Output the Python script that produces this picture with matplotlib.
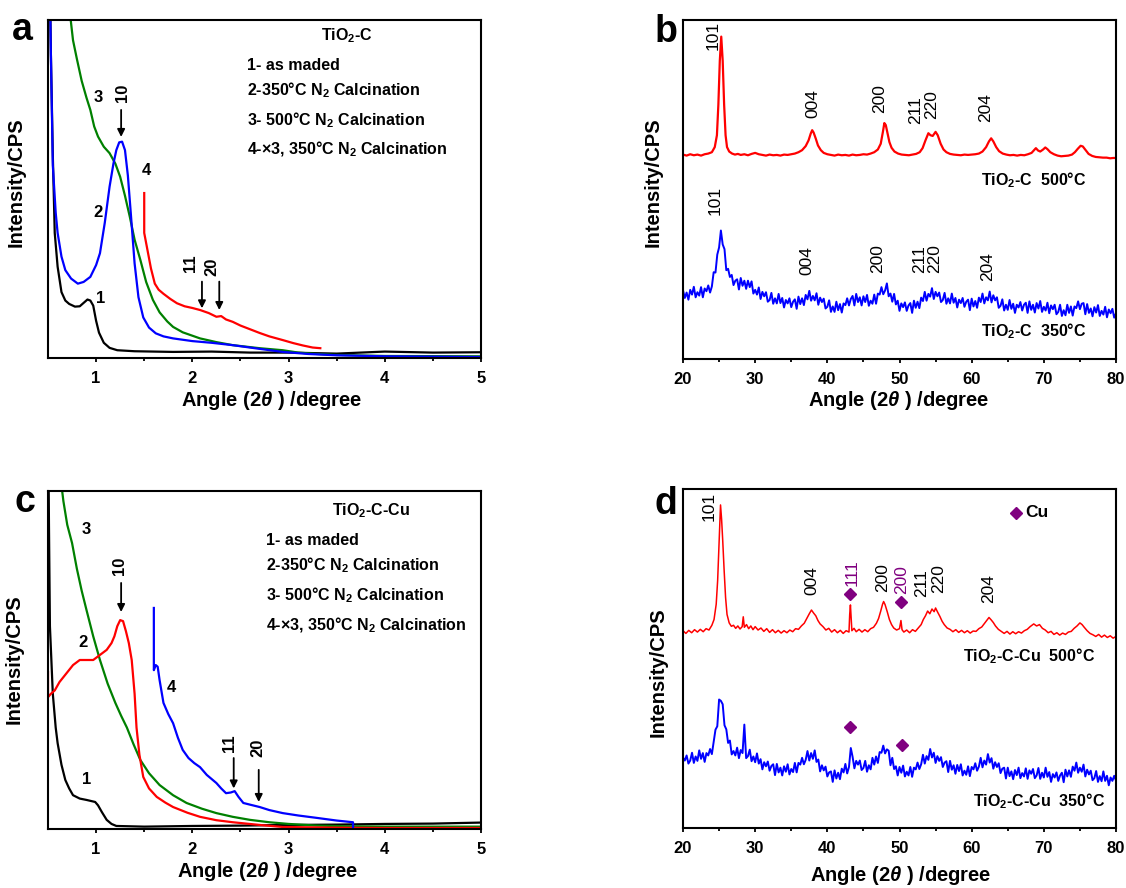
import numpy as np
import matplotlib
matplotlib.use("Agg")
import matplotlib.pyplot as plt

plt.rcParams.update({
    "font.family": ["Liberation Sans", "DejaVu Sans"],
    "mathtext.fontset": "custom",
    "mathtext.rm": "Liberation Sans:bold",
    "mathtext.it": "Liberation Sans:italic:bold",
    "mathtext.bf": "Liberation Sans:bold",
    "axes.linewidth": 1.5,
})

# ---------------- small-angle patterns, TiO2-C (panel a) ----------------
a1_x = [0.51, 0.53, 0.55, 0.57, 0.60, 0.64, 0.68, 0.72, 0.78, 0.83, 0.87, 0.91, 0.94, 0.97, 1.00,
        1.03, 1.08, 1.14, 1.22, 1.40, 1.80, 2.20, 2.60, 3.00, 3.50, 4.00, 4.50, 5.00]
a1_y = [130, 90, 60, 37, 27, 19.5, 17, 16, 15.2, 15.3, 16.3, 17.3, 17, 15.5, 11,
        7.5, 4.5, 3, 2.3, 2.0, 1.8, 1.9, 1.6, 1.6, 1.3, 1.9, 1.6, 1.7]
a2_x = [0.51, 0.53, 0.55, 0.58, 0.60, 0.64, 0.68, 0.74, 0.81, 0.87, 0.94, 1.00, 1.04, 1.09, 1.14,
        1.18, 1.21, 1.24, 1.27, 1.30, 1.33, 1.36, 1.40, 1.44, 1.49, 1.55, 1.62, 1.70, 1.80, 2.00,
        2.20, 2.42, 2.70, 2.94, 3.20, 3.50, 4.00, 4.50, 5.00]
a2_y = [130, 90, 57, 43, 37, 30, 26, 23.5, 22, 22.5, 24, 27.5, 31, 40, 50.7,
        57.5, 61.5, 63.8, 64, 61.5, 54, 43, 28, 18, 12, 9, 7.3, 6.4, 5.8, 5.0,
        4.5, 3.8, 2.7, 1.8, 1.2, 0.8, 0.5, 0.4, 0.3]
a3_x = [0.72, 0.76, 0.80, 0.85, 0.90, 0.94, 0.98, 1.02, 1.08, 1.14, 1.20, 1.25, 1.30, 1.35, 1.40,
        1.46, 1.52, 1.59, 1.66, 1.74, 1.80, 1.90, 2.08, 2.25, 2.42, 2.70, 2.94, 3.10, 3.29, 3.50,
        4.00, 5.00]
a3_y = [104, 94, 88.5, 82, 77, 73.4, 68.5, 65.5, 62.5, 60.6, 57.5, 53.6, 48, 41.8, 35,
        29, 22.5, 17.2, 13.5, 10.8, 9.2, 7.6, 5.8, 4.7, 3.8, 2.9, 2.3, 1.6, 1.2, 0.9,
        0.6, 0.5]
a4_x = [1.50, 1.50, 1.52, 1.54, 1.57, 1.61, 1.65, 1.70, 1.77, 1.84, 1.92, 2.00, 2.08, 2.17, 2.25,
        2.30, 2.35, 2.42, 2.50, 2.60, 2.70, 2.80, 2.94, 3.05, 3.15, 3.25, 3.33]
a4_y = [48.8, 37, 34, 31, 26.5, 22, 20.2, 19, 17.5, 16.2, 15.3, 14.8, 14.2, 13.3, 12.2,
        12.4, 11.4, 10.7, 9.6, 8.5, 7.4, 6.4, 5.3, 4.4, 3.7, 3.1, 2.9]

# ---------------- small-angle patterns, TiO2-C-Cu (panel c) ----------------
c1_x = [0.50, 0.51, 0.52, 0.55, 0.58, 0.60, 0.64, 0.68, 0.72, 0.76, 0.83, 0.90, 0.96, 0.99, 1.02,
        1.06, 1.11, 1.16, 1.21, 1.50, 2.00, 2.50, 3.00, 3.50, 4.00, 4.50, 5.00]
c1_y = [130, 90, 60, 40, 30, 25.4, 19, 14.5, 12, 10, 9, 8.6, 8.2, 8, 7,
        5, 2.7, 1.5, 0.9, 0.7, 0.9, 1.0, 1.2, 1.3, 1.5, 1.6, 1.9]
c2_x = [0.50, 0.50, 0.53, 0.57, 0.62, 0.69, 0.76, 0.83, 0.90, 0.97, 1.04, 1.11, 1.16, 1.19, 1.22,
        1.25, 1.28, 1.31, 1.34, 1.37, 1.40, 1.42, 1.45, 1.49, 1.55, 1.63, 1.72, 1.80, 1.95, 2.08,
        2.25, 2.42, 2.70, 2.94, 3.50, 4.00, 5.00]
c2_y = [46.4, 39, 40, 41, 43.5, 46, 48.5, 50, 50, 50, 51.5, 53, 55, 57, 60,
        61.8, 61.5, 58.5, 55, 50, 40, 30, 22, 15.4, 12, 9.5, 7.8, 6.5, 4.8, 3.6,
        2.6, 2.0, 1.2, 0.6, 0.4, 0.3, 0.3]
c3_x = [0.63, 0.66, 0.70, 0.75, 0.80, 0.85, 0.90, 0.97, 1.04, 1.12, 1.20, 1.26, 1.32, 1.39, 1.46,
        1.55, 1.66, 1.80, 1.94, 2.10, 2.25, 2.42, 2.60, 2.80, 3.00, 3.30, 3.60, 4.00, 5.00]
c3_y = [104, 97, 90, 84.6, 77, 70.5, 64.8, 57, 50, 43, 37.3, 33.5, 30, 25, 20.4,
        16.5, 13, 10, 7.7, 6, 4.7, 3.6, 2.7, 2.0, 1.5, 1.0, 0.8, 0.7, 0.7]
c4_x = [1.60, 1.60, 1.62, 1.64, 1.66, 1.70, 1.75, 1.80, 1.85, 1.90, 1.96, 2.02, 2.08, 2.15, 2.25,
        2.30, 2.35, 2.40, 2.44, 2.48, 2.53, 2.60, 2.70, 2.80, 2.94, 3.10, 3.29, 3.50, 3.67, 3.67]
c4_y = [65.4, 47, 48.5, 48, 44, 37.3, 34, 31.3, 27, 23.4, 21, 19.5, 18.3, 16, 13.6,
        12, 10.6, 10.8, 11.2, 9.5, 7.7, 7.2, 6.5, 5.6, 4.7, 4.0, 3.3, 2.5, 2.0, 0.5]

# ---------------- wide-angle patterns, TiO2-C (panel b) ----------------
b500_x = [20.0, 20.5, 21.0, 21.5, 22.0, 22.5, 23.0, 23.5, 24.0, 24.4, 24.7, 24.9, 25.1, 25.3, 25.5,
          25.7, 25.9, 26.1, 26.4, 26.8, 27.2, 27.6, 28.0, 28.5, 29.0, 29.5, 30.0, 30.5, 31.0, 31.5,
          32.0, 32.5, 33.0, 33.5, 34.0, 34.5, 35.0, 35.5, 36.0, 36.5, 37.0, 37.4, 37.7, 37.9, 38.1,
          38.4, 38.7, 39.1, 39.5, 40.0, 40.5, 41.0, 41.5, 42.0, 42.5, 43.0, 43.5, 44.0, 44.5, 45.0,
          45.5, 46.0, 46.5, 47.0, 47.4, 47.7, 47.9, 48.1, 48.3, 48.6, 48.9, 49.3, 49.8, 50.3, 50.8,
          51.3, 51.8, 52.3, 52.8, 53.2, 53.6, 54.0, 54.3, 54.6, 55.0, 55.3, 55.7, 56.1, 56.5, 57.0,
          57.5, 58.0, 58.5, 59.0, 59.5, 60.0, 60.5, 61.0, 61.5, 62.0, 62.4, 62.7, 63.0, 63.4, 63.8,
          64.3, 64.8, 65.3, 65.8, 66.3, 66.8, 67.3, 67.8, 68.3, 68.6, 68.9, 69.2, 69.5, 69.9, 70.2,
          70.5, 70.9, 71.4, 71.9, 72.4, 72.9, 73.4, 73.9, 74.3, 74.7, 75.1, 75.4, 75.8, 76.2, 76.7,
          77.2, 77.7, 78.2, 78.7, 79.2, 79.6, 80.0]
b500_y = [60.3, 60.0, 60.4, 60.1, 60.3, 60.0, 60.4, 60.6, 61.0, 62.5, 66, 75, 88, 95.1, 88,
          75, 66, 62.5, 61.2, 60.6, 60.3, 60.5, 60.2, 60.4, 60.1, 60.5, 60.8, 60.4, 60.2, 60.0,
          60.3, 60.1, 60.2, 60.0, 60.3, 60.2, 60.4, 60.6, 61.0, 61.6, 62.8, 64.5, 66.5, 67.5, 66.8,
          65.0, 63.0, 61.6, 60.8, 60.4, 60.2, 60.0, 60.3, 60.1, 60.2, 60.0, 60.3, 60.1, 60.2, 60.4,
          60.3, 60.6, 61.0, 61.8, 63.5, 67, 69.6, 69.0, 67, 64, 62.3, 61.2, 60.6, 60.3, 60.2,
          60.1, 60.3, 60.5, 61.0, 62.2, 64.5, 66.6, 66.0, 65.8, 67.0, 66.0, 63.5, 61.8, 61.0, 60.5,
          60.3, 60.2, 60.1, 60.3, 60.2, 60.3, 60.4, 60.6, 61.2, 62.5, 64.2, 65.1, 64.2, 62.5, 61.3,
          60.6, 60.3, 60.1, 60.2, 60.0, 60.2, 60.1, 60.4, 60.8, 61.5, 62.2, 61.5, 61.2, 61.8, 62.4,
          61.9, 61.0, 60.4, 60.0, 59.8, 59.9, 60.0, 60.3, 61.0, 62.0, 62.9, 62.7, 61.6, 60.5, 59.9,
          59.6, 59.5, 59.4, 59.4, 59.2, 59.3, 59.3]

# 0.25 degree scan, 350 C sample
b350_y = [20.3, 18.0, 19.6, 17.5, 20.4, 19.0, 21.3, 18.2, 19.7, 18.7, 21.2, 18.2, 20.8, 20.0, 21.7, 19.6,
          21.4, 25.6, 25.5, 30.8, 32.9, 37.9, 33.8, 32.4, 26.2, 26.6, 24.2, 24.8, 21.8, 23.1, 23.5, 20.5,
          23.9, 21.6, 23.1, 20.7, 23.1, 21.2, 22.9, 19.3, 20.4, 19.0, 21.1, 17.7, 19.8, 18.5, 19.7, 16.9,
          17.4, 19.5, 16.3, 17.9, 16.4, 19.2, 16.5, 18.0, 15.2, 17.4, 16.4, 17.9, 15.3, 16.9, 17.6, 14.8,
          18.4, 16.2, 17.9, 15.9, 18.9, 17.6, 20.1, 17.2, 18.6, 17.3, 19.4, 16.0, 18.1, 16.8, 17.8, 14.9,
          15.4, 17.3, 13.9, 15.5, 13.9, 16.9, 14.4, 16.2, 13.7, 16.4, 15.9, 17.9, 15.8, 17.7, 18.6, 15.8,
          19.2, 16.8, 18.2, 15.8, 18.5, 16.8, 18.9, 15.7, 17.2, 16.3, 19.0, 16.3, 19.3, 19.0, 21.2, 19.1,
          20.2, 22.3, 18.5, 19.3, 16.9, 19.2, 16.1, 17.2, 14.2, 16.4, 15.3, 16.7, 14.2, 15.8, 16.5, 13.6,
          17.2, 15.1, 16.9, 15.0, 18.1, 17.1, 19.8, 17.2, 19.2, 18.4, 20.9, 17.7, 19.8, 18.5, 19.6, 16.8,
          17.4, 19.5, 16.3, 17.9, 16.4, 19.3, 16.6, 18.0, 15.2, 17.5, 16.5, 18.0, 15.4, 16.9, 17.5, 14.4,
          17.8, 15.5, 17.1, 15.1, 18.1, 16.8, 19.3, 16.4, 18.2, 17.3, 19.9, 16.7, 18.8, 17.3, 18.2, 15.1,
          15.7, 17.6, 14.3, 16.0, 14.5, 17.4, 14.8, 16.3, 13.6, 16.0, 15.2, 16.8, 14.3, 16.0, 16.6, 13.6,
          17.0, 14.5, 16.0, 13.7, 16.5, 14.9, 17.1, 13.9, 15.4, 14.3, 16.6, 13.5, 15.8, 14.7, 16.0, 13.2,
          13.9, 16.0, 12.7, 14.4, 12.9, 16.0, 13.6, 15.5, 12.8, 15.5, 15.0, 17.0, 14.7, 16.3, 16.5, 13.2,
          16.2, 13.6, 14.9, 12.6, 15.3, 13.7, 15.9, 12.7, 14.2, 13.1, 15.4, 12.3, 14.6, 13.5, 14.8, 12.2,
          13.5]

# ---------------- wide-angle patterns, TiO2-C-Cu (panel d) ----------------
d500_x = [20.0, 20.4, 20.8, 21.2, 21.6, 22.0, 22.4, 22.8, 23.2, 23.6, 24.0, 24.3, 24.6, 24.8, 25.0,
          25.1, 25.2, 25.35, 25.5, 25.7, 25.9, 26.1, 26.4, 26.7, 27.0, 27.3, 27.6, 27.9, 28.2, 28.35,
          28.5, 28.8, 29.1, 29.4, 29.7, 30.0, 30.4, 30.8, 31.2, 31.6, 32.0, 32.4, 32.8, 33.2, 33.6,
          34.0, 34.4, 34.8, 35.2, 35.6, 36.0, 36.4, 36.8, 37.2, 37.5, 37.8, 38.1, 38.4, 38.7, 39.0,
          39.4, 39.8, 40.2, 40.6, 41.0, 41.4, 41.8, 42.2, 42.6, 43.0, 43.1, 43.2, 43.3, 43.4, 43.7,
          44.0, 44.4, 44.8, 45.2, 45.6, 46.0, 46.4, 46.8, 47.1, 47.4, 47.65, 47.8, 48.0, 48.3, 48.6,
          48.9, 49.2, 49.6, 50.0, 50.2, 50.35, 50.6, 51.0, 51.4, 51.8, 52.2, 52.6, 53.0, 53.3, 53.6,
          53.9, 54.2, 54.5, 54.8, 55.0, 55.3, 55.6, 55.9, 56.2, 56.6, 57.0, 57.4, 57.8, 58.2, 58.6,
          59.0, 59.4, 59.8, 60.2, 60.6, 61.0, 61.4, 61.8, 62.1, 62.4, 62.7, 63.0, 63.3, 63.7, 64.1,
          64.5, 64.9, 65.3, 65.7, 66.1, 66.5, 66.9, 67.3, 67.7, 68.1, 68.6, 69.0, 69.4, 69.8, 70.2,
          70.6, 71.0, 71.4, 71.8, 72.2, 72.6, 73.0, 73.4, 73.8, 74.2, 74.6, 75.0, 75.3, 75.6, 76.0,
          76.4, 76.8, 77.2, 77.6, 78.0, 78.4, 78.8, 79.2, 79.6, 80.0]
d500_y = [58.2, 57.4, 58.3, 57.6, 58.5, 57.8, 58.6, 57.9, 58.8, 58.4, 59.8, 61.5, 66, 73, 84,
          90, 95.3, 91, 85, 76, 68, 63, 60.5, 59.5, 59.8, 58.9, 59.6, 58.7, 59.4, 62.3,
          59.2, 60.0, 58.8, 59.6, 58.5, 59.4, 58.4, 59.0, 58.0, 58.8, 57.7, 58.5, 57.6, 58.3, 57.5,
          58.2, 57.6, 58.4, 57.9, 58.8, 58.6, 59.6, 60.4, 62.0, 63.2, 64.3, 63.4, 62.6, 61.2, 60.2,
          59.4, 58.4, 58.9, 57.8, 58.5, 57.6, 58.3, 57.4, 58.2, 57.8, 63, 65.8, 62, 58.2, 58.9,
          57.9, 58.6, 57.8, 58.5, 57.9, 58.8, 59.2, 60.4, 61.8, 64.0, 66.0, 66.8, 65.9, 63.8, 61.5,
          60.0, 59.0, 58.4, 58.8, 61.2, 58.5, 57.8, 58.4, 57.6, 58.5, 58.0, 59.0, 60.0, 61.5, 62.6,
          64.0, 63.2, 64.6, 63.8, 64.9, 63.6, 62.4, 61.0, 60.0, 59.0, 58.6, 57.9, 58.5, 57.7, 58.3,
          57.6, 58.2, 57.5, 58.1, 58.0, 58.8, 59.3, 60.4, 61.2, 62.1, 61.4, 60.6, 59.6, 58.6, 58.0,
          57.4, 58.0, 57.2, 57.9, 57.3, 57.9, 57.5, 58.2, 58.6, 59.4, 60.2, 59.6, 60.0, 58.9, 58.4,
          57.6, 58.0, 57.1, 57.6, 56.9, 57.5, 57.1, 57.8, 58.0, 58.9, 59.6, 60.5, 60.0, 59.2, 58.2,
          57.4, 57.0, 56.5, 57.1, 56.3, 56.9, 56.2, 56.7, 56.0, 56.5]

# 0.25 degree scan, 350 C sample
d350_y = [20.8, 19.9, 21.4, 19.0, 19.9, 22.2, 19.2, 21.1, 19.8, 22.9, 20.4, 22.1, 19.5, 22.1, 21.4, 23.3,
          21.8, 25.4, 29.0, 30.0, 37.9, 37.5, 36.5, 30.3, 29.1, 25.1, 25.8, 21.7, 22.7, 21.4, 23.7, 20.6,
          23.0, 22.1, 30.5, 20.6, 21.2, 23.1, 19.7, 21.1, 19.4, 22.0, 19.0, 20.3, 17.3, 19.4, 18.2, 19.6,
          16.9, 18.3, 18.8, 15.6, 18.9, 16.4, 17.8, 15.5, 18.2, 16.6, 18.8, 15.8, 17.4, 16.5, 19.2, 16.4,
          19.2, 18.7, 20.7, 18.8, 20.1, 22.7, 19.9, 22.1, 20.4, 22.9, 19.5, 20.2, 16.7, 18.5, 17.0, 18.1,
          15.2, 16.4, 16.7, 13.6, 17.0, 14.6, 16.3, 14.4, 17.5, 16.4, 18.9, 16.1, 18.0, 23.6, 21.0, 17.6,
          19.8, 18.7, 19.9, 17.1, 17.7, 19.8, 16.6, 18.5, 17.3, 20.7, 18.7, 21.1, 19.2, 22.4, 22.2, 24.3,
          22.0, 23.2, 22.8, 18.5, 20.7, 17.4, 18.2, 15.5, 18.0, 16.3, 18.4, 15.2, 16.6, 15.5, 18.0, 15.1,
          17.8, 17.3, 19.3, 17.4, 18.8, 21.6, 19.0, 21.2, 20.1, 23.3, 20.8, 22.2, 19.2, 21.2, 19.8, 20.9,
          18.0, 19.3, 19.7, 16.5, 19.8, 17.2, 18.5, 16.0, 18.6, 16.8, 18.8, 15.5, 16.9, 15.7, 18.2, 15.3,
          18.0, 17.3, 19.1, 16.9, 18.1, 20.7, 17.9, 19.9, 18.7, 21.8, 19.3, 20.6, 17.5, 19.4, 18.0, 19.1,
          16.2, 17.5, 17.8, 14.6, 17.8, 15.3, 16.7, 14.4, 17.1, 15.6, 17.8, 14.7, 16.2, 15.2, 17.6, 14.5,
          17.0, 16.0, 17.4, 14.7, 15.5, 17.7, 14.5, 16.3, 14.9, 17.8, 15.1, 16.5, 13.6, 15.9, 14.9, 16.4,
          13.9, 15.5, 16.3, 13.5, 17.2, 15.2, 17.0, 15.1, 18.1, 16.9, 19.3, 16.3, 17.8, 16.6, 18.7, 15.2,
          17.2, 15.8, 16.9, 14.1, 14.7, 16.8, 13.6, 15.3, 13.8, 16.7, 13.9, 15.4, 12.6, 14.9, 13.9, 15.4,
          14.0]

scan_start, scan_step = 20.0, 0.25

# legend lines of the small-angle panels
saxs_lines = ["1- as maded",
              r"2-350°C N$_2$ Calcination",
              r"3- 500°C N$_2$ Calcination",
              r"4-×3, 350°C N$_2$ Calcination"]

W, H = 1126, 888
fig = plt.figure(figsize=(W / 100, H / 100), dpi=100)


def px_axes(left, top, right, bottom):
    return fig.add_axes([left / W, 1 - bottom / H, (right - left) / W, (bottom - top) / H])


def style(ax, xlim, major, minor, ylab_x, ylab_y, xlab_x, xlab_y):
    ax.set_xlim(*xlim)
    ax.set_ylim(0, 100)
    ax.set_yticks([])
    ax.set_xticks(major)
    ax.set_xticks(minor, minor=True)
    ax.tick_params(axis="x", which="both", direction="out", length=3.2, width=1.3, pad=6,
                   labelsize=12)
    ax.tick_params(axis="x", which="minor", length=2.5)
    for lab in ax.get_xticklabels():
        lab.set_fontweight("bold")
    ax.set_xlabel(r"Angle (2$\theta$ ) /degree", fontsize=14.5, fontweight="bold")
    ax.set_ylabel("Intensity/CPS", fontsize=14.5, fontweight="bold")
    ax.yaxis.set_label_coords(ylab_x, ylab_y)
    ax.xaxis.set_label_coords(xlab_x, xlab_y)


def arrow(ax, x, y0, y1):
    ax.annotate("", xy=(x, y1), xytext=(x, y0),
                arrowprops=dict(arrowstyle="-|>", color="black", lw=1.3,
                                mutation_scale=11, shrinkA=0, shrinkB=0))


def num(ax, x, y, s, rot=0):
    ax.text(x, y, s, fontsize=12, fontweight="bold", rotation=rot, ha="center", va="center")


def peak(ax, x, y, s, color="black"):
    ax.text(x, y, s, fontsize=12.5, rotation=90, ha="center", va="center", color=color)


saxs_major = [1, 2, 3, 4, 5]
saxs_minor = [1.5, 2.5, 3.5, 4.5]
xrd_major = [20, 30, 40, 50, 60, 70, 80]
xrd_minor = [25, 35, 45, 55, 65, 75]

# ---- panel a ----
ax = px_axes(48, 20, 481, 358)
ax.plot(a1_x, a1_y, color="black", lw=1.6)
ax.plot(a3_x, a3_y, color="#008000", lw=1.6)
ax.plot(a2_x, a2_y, color="#0000FF", lw=1.6)
ax.plot(a4_x, a4_y, color="#FF0000", lw=1.6)
style(ax, (0.5, 5), saxs_major, saxs_minor, -0.052, 0.52, 0.517, -0.092)
ax.text(3.61, 93.9, r"TiO$_2$-C", fontsize=11.5, fontweight="bold", ha="center", va="baseline")
for s, yb in zip(saxs_lines, [85.2, 77.6, 68.9, 60.3]):
    ax.text(2.57, yb, s, fontsize=11.5, fontweight="bold", ha="left", va="baseline")
num(ax, 1.02, 77, "3")
num(ax, 1.02, 43, "2")
num(ax, 1.05, 17.7, "1")
num(ax, 1.52, 55.6, "4")
num(ax, 1.27, 78.5, "10", 90)
num(ax, 1.98, 28, "11", 90)
num(ax, 2.2, 27, "20", 90)
arrow(ax, 1.26, 73.4, 65.4)
arrow(ax, 2.10, 22.6, 14.7)
arrow(ax, 2.28, 22.6, 14.2)

# ---- panel b ----
ax = px_axes(683, 20, 1116, 359)
xs = scan_start + scan_step * np.arange(len(b350_y))
ax.plot(b500_x, b500_y, color="#FF0000", lw=1.6)
ax.plot(xs, b350_y, color="#0000FF", lw=1.4)
style(ax, (20, 80), xrd_major, xrd_minor, -0.047, 0.523, 0.497, -0.088)
for x, y, s in [(24.2, 95.5, "101"), (38.0, 75.4, "004"), (47.2, 76.7, "200"),
                (52.2, 73.5, "211"), (54.4, 75.0, "220"), (61.9, 74.3, "204")]:
    peak(ax, x, y, s)
for x, y, s in [(24.4, 46.9, "101"), (37.1, 29.0, "004"), (46.9, 29.5, "200"),
                (52.8, 29.5, "211"), (54.9, 29.5, "220"), (62.2, 27.4, "204")]:
    peak(ax, x, y, s)
ax.text(68.6, 51.3, r"TiO$_2$-C  500°C", fontsize=11.5, fontweight="bold", ha="center", va="baseline")
ax.text(68.6, 6.6, r"TiO$_2$-C  350°C", fontsize=11.5, fontweight="bold", ha="center", va="baseline")

# ---- panel c ----
ax = px_axes(48, 491, 481, 829)
ax.plot(c1_x, c1_y, color="black", lw=1.6)
ax.plot(c3_x, c3_y, color="#008000", lw=1.6)
ax.plot(c2_x, c2_y, color="#FF0000", lw=1.6)
ax.plot(c4_x, c4_y, color="#0000FF", lw=1.6)
style(ax, (0.5, 5), saxs_major, saxs_minor, -0.057, 0.503, 0.507, -0.092)
ax.text(3.86, 92.9, r"TiO$_2$-C-Cu", fontsize=11.5, fontweight="bold", ha="center", va="baseline")
for s, yb in zip(saxs_lines, [84.0, 76.6, 67.8, 58.9]):
    ax.text(2.77, yb, s, fontsize=11.5, fontweight="bold", ha="left", va="baseline")
num(ax, 0.9, 88.5, "3")
num(ax, 0.86, 55.3, "2")
num(ax, 0.9, 14.5, "1")
num(ax, 1.78, 42, "4")
num(ax, 1.24, 77.8, "10", 90)
num(ax, 2.39, 25.4, "11", 90)
num(ax, 2.68, 24, "20", 90)
arrow(ax, 1.26, 72.8, 64.2)
arrow(ax, 2.43, 21.0, 12.0)
arrow(ax, 2.69, 17.5, 8.0)

# ---- panel d ----
ax = px_axes(683, 489, 1116, 828)
xs = scan_start + scan_step * np.arange(len(d350_y))
ax.plot(d500_x, d500_y, color="#FF0000", lw=1.1)
ax.plot(xs, d350_y, color="#0000FF", lw=1.4)
style(ax, (20, 80), xrd_major, xrd_minor, -0.035, 0.461, 0.503, -0.107)
for x, y, s in [(23.6, 94.8, "101"), (37.8, 72.9, "004"), (47.6, 73.9, "200"),
                (53.0, 72.4, "211"), (55.4, 73.5, "220"), (62.3, 70.7, "204")]:
    peak(ax, x, y, s)
cu = "#800080"
peak(ax, 43.4, 75.2, "111", cu)
peak(ax, 50.3, 73.2, "200", cu)
ax.plot([43.2, 50.25, 43.2, 50.3, 66.1], [68.9, 66.6, 29.8, 24.5, 93.0], "D",
        color=cu, ms=6, mec=cu, ls="none")
ax.text(67.4, 93.0, "Cu", fontsize=12.5, fontweight="bold", ha="left", va="center")
ax.text(68.0, 49.1, r"TiO$_2$-C-Cu  500°C", fontsize=11.5, fontweight="bold", ha="center", va="baseline")
ax.text(69.4, 6.3, r"TiO$_2$-C-Cu  350°C", fontsize=11.5, fontweight="bold", ha="center", va="baseline")

# panel letters
for s, x, y in [("a", 12, 40), ("b", 655, 42), ("c", 15, 512), ("d", 655, 514)]:
    fig.text(x / W, 1 - y / H, s, fontsize=27, fontweight="bold", ha="left", va="baseline")

fig.savefig("out.png", dpi=100)
